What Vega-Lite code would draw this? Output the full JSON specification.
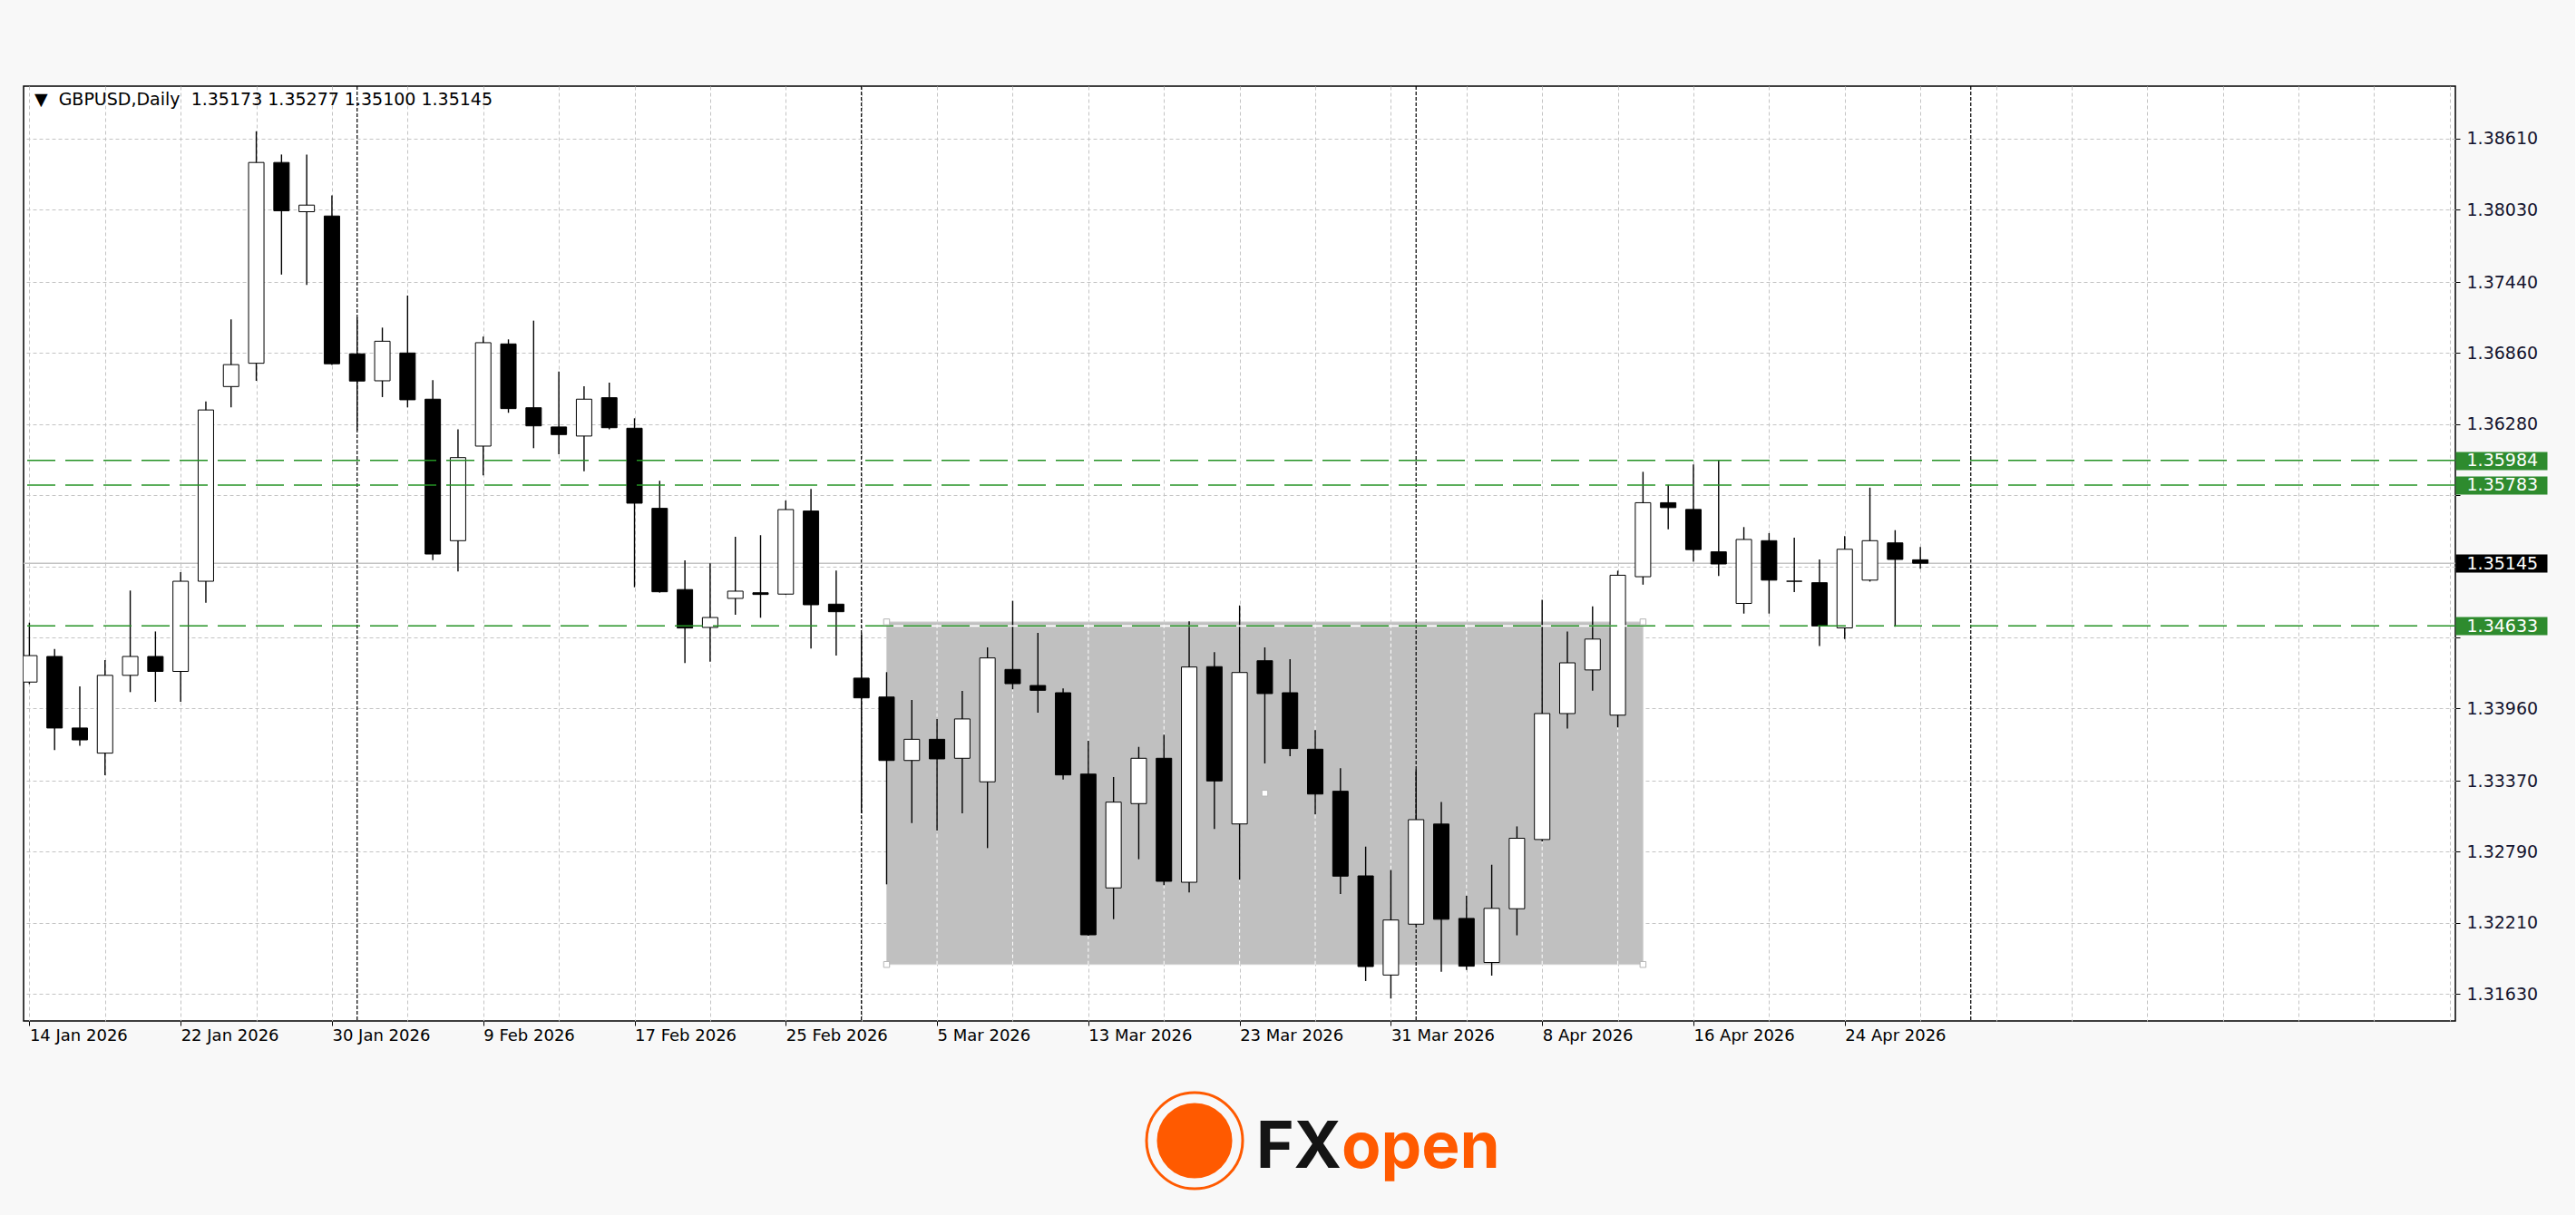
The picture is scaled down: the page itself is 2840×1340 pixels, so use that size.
{
  "$schema": "https://vega.github.io/schema/vega-lite/v6.json",
  "background": "#f8f8f8",
  "padding": {"left": 24, "top": 93, "right": 20, "bottom": 14},
  "autosize": {"type": "pad"},
  "spacing": 36,
  "config": {
    "view": {"stroke": "#000000", "strokeWidth": 1.5, "fill": "#ffffff"}
  },
  "datasets": {
    "candles": [
      {"d": "2026-01-14", "i": 0, "o": 1.34175, "h": 1.34660, "l": 1.34158, "c": 1.34391},
      {"d": "2026-01-15", "i": 1, "o": 1.34384, "h": 1.34445, "l": 1.33620, "c": 1.33800},
      {"d": "2026-01-16", "i": 2, "o": 1.33800, "h": 1.34140, "l": 1.33656, "c": 1.33703},
      {"d": "2026-01-19", "i": 3, "o": 1.33595, "h": 1.34355, "l": 1.33415, "c": 1.34230},
      {"d": "2026-01-20", "i": 4, "o": 1.34230, "h": 1.34922, "l": 1.34093, "c": 1.34384},
      {"d": "2026-01-21", "i": 5, "o": 1.34384, "h": 1.34588, "l": 1.34014, "c": 1.34262},
      {"d": "2026-01-22", "i": 6, "o": 1.34262, "h": 1.35072, "l": 1.34014, "c": 1.34998},
      {"d": "2026-01-23", "i": 7, "o": 1.34998, "h": 1.36465, "l": 1.34822, "c": 1.36396},
      {"d": "2026-01-26", "i": 8, "o": 1.36587, "h": 1.37136, "l": 1.36418, "c": 1.36766},
      {"d": "2026-01-27", "i": 9, "o": 1.36777, "h": 1.38671, "l": 1.36633, "c": 1.38416},
      {"d": "2026-01-28", "i": 10, "o": 1.38416, "h": 1.38481, "l": 1.37501, "c": 1.38022},
      {"d": "2026-01-29", "i": 11, "o": 1.38014, "h": 1.38481, "l": 1.37416, "c": 1.38068},
      {"d": "2026-01-30", "i": 12, "o": 1.37979, "h": 1.38147, "l": 1.36764, "c": 1.36773},
      {"d": "2026-02-02", "i": 13, "o": 1.36854, "h": 1.37150, "l": 1.36229, "c": 1.36632},
      {"d": "2026-02-03", "i": 14, "o": 1.36634, "h": 1.37068, "l": 1.36501, "c": 1.36957},
      {"d": "2026-02-04", "i": 15, "o": 1.36861, "h": 1.37330, "l": 1.36417, "c": 1.36479},
      {"d": "2026-02-05", "i": 16, "o": 1.36484, "h": 1.36639, "l": 1.35171, "c": 1.35220},
      {"d": "2026-02-06", "i": 17, "o": 1.35329, "h": 1.36237, "l": 1.35078, "c": 1.36007},
      {"d": "2026-02-09", "i": 18, "o": 1.36101, "h": 1.36994, "l": 1.35862, "c": 1.36945},
      {"d": "2026-02-10", "i": 19, "o": 1.36935, "h": 1.36972, "l": 1.36373, "c": 1.36407},
      {"d": "2026-02-11", "i": 20, "o": 1.36414, "h": 1.37125, "l": 1.36084, "c": 1.36266},
      {"d": "2026-02-12", "i": 21, "o": 1.36257, "h": 1.36710, "l": 1.36035, "c": 1.36195},
      {"d": "2026-02-13", "i": 22, "o": 1.36183, "h": 1.36590, "l": 1.35896, "c": 1.36484},
      {"d": "2026-02-16", "i": 23, "o": 1.36496, "h": 1.36619, "l": 1.36237, "c": 1.36251},
      {"d": "2026-02-17", "i": 24, "o": 1.36247, "h": 1.36328, "l": 1.34949, "c": 1.35635},
      {"d": "2026-02-18", "i": 25, "o": 1.35593, "h": 1.35818, "l": 1.34905, "c": 1.34912},
      {"d": "2026-02-19", "i": 26, "o": 1.34930, "h": 1.35169, "l": 1.34330, "c": 1.34616},
      {"d": "2026-02-20", "i": 27, "o": 1.34621, "h": 1.35144, "l": 1.34342, "c": 1.34702},
      {"d": "2026-02-23", "i": 28, "o": 1.34858, "h": 1.35361, "l": 1.34725, "c": 1.34917},
      {"d": "2026-02-24", "i": 29, "o": 1.34904, "h": 1.35374, "l": 1.34700, "c": 1.34890},
      {"d": "2026-02-25", "i": 30, "o": 1.34893, "h": 1.35657, "l": 1.34888, "c": 1.35583},
      {"d": "2026-02-26", "i": 31, "o": 1.35571, "h": 1.35751, "l": 1.34449, "c": 1.34806},
      {"d": "2026-02-27", "i": 32, "o": 1.34811, "h": 1.35085, "l": 1.34392, "c": 1.34749},
      {"d": "2026-03-02", "i": 33, "o": 1.34207, "h": 1.34567, "l": 1.33104, "c": 1.34046},
      {"d": "2026-03-03", "i": 34, "o": 1.34053, "h": 1.34256, "l": 1.32524, "c": 1.33535},
      {"d": "2026-03-04", "i": 35, "o": 1.33535, "h": 1.34029, "l": 1.33025, "c": 1.33708},
      {"d": "2026-03-05", "i": 36, "o": 1.33708, "h": 1.33874, "l": 1.32963, "c": 1.33548},
      {"d": "2026-03-06", "i": 37, "o": 1.33553, "h": 1.34103, "l": 1.33104, "c": 1.33874},
      {"d": "2026-03-09", "i": 38, "o": 1.33361, "h": 1.34458, "l": 1.32820, "c": 1.34372},
      {"d": "2026-03-10", "i": 39, "o": 1.34278, "h": 1.34838, "l": 1.34116, "c": 1.34162},
      {"d": "2026-03-11", "i": 40, "o": 1.34147, "h": 1.34577, "l": 1.33925, "c": 1.34108},
      {"d": "2026-03-12", "i": 41, "o": 1.34088, "h": 1.34123, "l": 1.33380, "c": 1.33417},
      {"d": "2026-03-13", "i": 42, "o": 1.33424, "h": 1.33696, "l": 1.32105, "c": 1.32112},
      {"d": "2026-03-16", "i": 43, "o": 1.32495, "h": 1.33400, "l": 1.32240, "c": 1.33195},
      {"d": "2026-03-17", "i": 44, "o": 1.33183, "h": 1.33646, "l": 1.32729, "c": 1.33553},
      {"d": "2026-03-18", "i": 45, "o": 1.33553, "h": 1.33745, "l": 1.32517, "c": 1.32549},
      {"d": "2026-03-19", "i": 46, "o": 1.32541, "h": 1.34671, "l": 1.32458, "c": 1.34298},
      {"d": "2026-03-20", "i": 47, "o": 1.34301, "h": 1.34419, "l": 1.32976, "c": 1.33368},
      {"d": "2026-03-23", "i": 48, "o": 1.33017, "h": 1.34801, "l": 1.32561, "c": 1.34253},
      {"d": "2026-03-24", "i": 49, "o": 1.34349, "h": 1.34458, "l": 1.33511, "c": 1.34081},
      {"d": "2026-03-25", "i": 50, "o": 1.34088, "h": 1.34362, "l": 1.33570, "c": 1.33632},
      {"d": "2026-03-26", "i": 51, "o": 1.33627, "h": 1.33782, "l": 1.33096, "c": 1.33261},
      {"d": "2026-03-27", "i": 52, "o": 1.33284, "h": 1.33472, "l": 1.32445, "c": 1.32591},
      {"d": "2026-03-30", "i": 53, "o": 1.32593, "h": 1.32832, "l": 1.31735, "c": 1.31853},
      {"d": "2026-03-31", "i": 54, "o": 1.31784, "h": 1.32640, "l": 1.31592, "c": 1.32233},
      {"d": "2026-04-01", "i": 55, "o": 1.32199, "h": 1.33461, "l": 1.32191, "c": 1.33052},
      {"d": "2026-04-02", "i": 56, "o": 1.33016, "h": 1.33197, "l": 1.31810, "c": 1.32239},
      {"d": "2026-04-03", "i": 57, "o": 1.32246, "h": 1.32430, "l": 1.31826, "c": 1.31856},
      {"d": "2026-04-06", "i": 58, "o": 1.31886, "h": 1.32684, "l": 1.31779, "c": 1.32328},
      {"d": "2026-04-07", "i": 59, "o": 1.32325, "h": 1.32997, "l": 1.32108, "c": 1.32900},
      {"d": "2026-04-08", "i": 60, "o": 1.32890, "h": 1.34847, "l": 1.32874, "c": 1.33918},
      {"d": "2026-04-09", "i": 61, "o": 1.33918, "h": 1.34587, "l": 1.33795, "c": 1.34332},
      {"d": "2026-04-10", "i": 62, "o": 1.34274, "h": 1.34793, "l": 1.34105, "c": 1.34526},
      {"d": "2026-04-13", "i": 63, "o": 1.33905, "h": 1.35084, "l": 1.33805, "c": 1.35047},
      {"d": "2026-04-14", "i": 64, "o": 1.35035, "h": 1.35891, "l": 1.34970, "c": 1.35639},
      {"d": "2026-04-15", "i": 65, "o": 1.35639, "h": 1.35784, "l": 1.35422, "c": 1.35599},
      {"d": "2026-04-16", "i": 66, "o": 1.35584, "h": 1.35952, "l": 1.35158, "c": 1.35256},
      {"d": "2026-04-17", "i": 67, "o": 1.35238, "h": 1.35983, "l": 1.35041, "c": 1.35139},
      {"d": "2026-04-20", "i": 68, "o": 1.34817, "h": 1.35440, "l": 1.34734, "c": 1.35339},
      {"d": "2026-04-21", "i": 69, "o": 1.35329, "h": 1.35391, "l": 1.34734, "c": 1.35007},
      {"d": "2026-04-22", "i": 70, "o": 1.34998, "h": 1.35354, "l": 1.34910, "c": 1.34998},
      {"d": "2026-04-23", "i": 71, "o": 1.34986, "h": 1.35176, "l": 1.34470, "c": 1.34633},
      {"d": "2026-04-24", "i": 72, "o": 1.34617, "h": 1.35366, "l": 1.34526, "c": 1.35259},
      {"d": "2026-04-27", "i": 73, "o": 1.35007, "h": 1.35762, "l": 1.34995, "c": 1.35329},
      {"d": "2026-04-28", "i": 74, "o": 1.35311, "h": 1.35415, "l": 1.34627, "c": 1.35176},
      {"d": "2026-04-29", "i": 75, "o": 1.35173, "h": 1.35277, "l": 1.35100, "c": 1.35145}
    ],
    "levels": [
      {"p": 1.35984, "kind": "line"},
      {"p": 1.35783, "kind": "line"},
      {"p": 1.34633, "kind": "line"},
      {"p": 1.35145, "kind": "bid"}
    ],
    "zone": [{"i1": 34, "i2": 64, "p1": 1.3187, "p2": 1.34666}],
    "handles": [
      {"i": 34, "p": 1.34666},
      {"i": 64, "p": 1.34666},
      {"i": 34, "p": 1.3187},
      {"i": 64, "p": 1.3187},
      {"i": 49, "p": 1.33268}
    ],
    "separators": [{"i": 13}, {"i": 33}, {"i": 55}, {"i": 77}],
    "zonegrid": [{"i": 36}, {"i": 39}, {"i": 42}, {"i": 45}, {"i": 48}, {"i": 51}, {"i": 54}, {"i": 57}, {"i": 60}, {"i": 63}]
  },
  "vconcat": [
    {
      "width": 2681,
      "height": 1031,
      "layer": [
        {
          "data": {"name": "zone"},
          "mark": {"type": "rect", "fill": "#c0c0c0", "stroke": "#d4d4d4", "strokeWidth": 1, "clip": true},
          "encoding": {
            "x": {"field": "i1", "type": "quantitative", "title": null, "scale": {"domain": [-0.05, 96.04], "nice": false, "zero": false}},
            "x2": {"field": "i2"},
            "y": {"field": "p1", "type": "quantitative", "title": null, "scale": {"domain": [1.31409, 1.39039], "nice": false, "zero": false}},
            "y2": {"field": "p2"}
          }
        },
        {
          "data": {"name": "zonegrid"},
          "mark": {"type": "rule", "color": "#ffffff", "strokeDash": [4, 3], "strokeWidth": 1},
          "encoding": {
            "x": {"field": "i", "type": "quantitative", "title": null, "scale": {"domain": [-0.05, 96.04], "nice": false, "zero": false}},
            "y": {"datum": 1.3187, "type": "quantitative", "title": null, "scale": {"domain": [1.31409, 1.39039], "nice": false, "zero": false}},
            "y2": {"datum": 1.34666}
          }
        },
        {
          "data": {"name": "separators"},
          "mark": {"type": "rule", "color": "#000000", "strokeDash": [4, 2], "strokeWidth": 1.2},
          "encoding": {
            "x": {"field": "i", "type": "quantitative", "title": null, "scale": {"domain": [-0.05, 96.04], "nice": false, "zero": false}}
          }
        },
        {
          "data": {"name": "levels"},
          "transform": [{"filter": "datum.kind === 'bid'"}],
          "mark": {"type": "rule", "color": "#c3c3c3", "strokeWidth": 1.5},
          "encoding": {
            "y": {"field": "p", "type": "quantitative", "title": null, "scale": {"domain": [1.31409, 1.39039], "nice": false, "zero": false}}
          }
        },
        {
          "data": {"name": "candles"},
          "mark": {"type": "rule", "color": "#000000", "strokeWidth": 1.4, "clip": true},
          "encoding": {
            "x": {
              "field": "i", "type": "quantitative", "title": null,
              "scale": {"domain": [-0.05, 96.04], "nice": false, "zero": false},
              "axis": {
                "values": [0, 3, 6, 9, 12, 15, 18, 21, 24, 27, 30, 33, 36, 39, 42, 45, 48, 51, 54, 57, 60, 63, 66, 69, 72, 75, 78, 81, 84, 87, 90, 93, 96],
                "title": null,
                "domain": false,
                "grid": true,
                "gridColor": "#c4c4c4",
                "gridDash": [4, 3],
                "gridWidth": 1,
                "ticks": true,
                "tickSize": 5,
                "tickColor": "#000000",
                "tickWidth": 1,
                "tickOpacity": {"condition": {"test": "datum.value % 6 === 0 && datum.value <= 72", "value": 1}, "value": 0},
                "labelExpr": "(datum.value % 6 === 0 && datum.value <= 72) ? ['14 Jan 2026','22 Jan 2026','30 Jan 2026','9 Feb 2026','17 Feb 2026','25 Feb 2026','5 Mar 2026','13 Mar 2026','23 Mar 2026','31 Mar 2026','8 Apr 2026','16 Apr 2026','24 Apr 2026'][datum.value / 6] : ''",
                "labelAlign": "left",
                "labelBaseline": "top",
                "labelPadding": 2,
                "labelFont": "DejaVu Sans",
                "labelFontSize": 18,
                "labelColor": "#000000",
                "labelOverlap": false,
                "labelFlush": false,
                "labelBound": false
              }
            },
            "y": {
              "field": "l", "type": "quantitative", "title": null,
              "scale": {"domain": [1.31409, 1.39039], "nice": false, "zero": false},
              "axis": {
                "orient": "right",
                "values": [1.3163, 1.3221, 1.3279, 1.3337, 1.3396, 1.3454, 1.3512, 1.357, 1.3628, 1.3686, 1.3744, 1.3803, 1.3861, 1.35984, 1.35783, 1.35145, 1.34633],
                "title": null,
                "domain": false,
                "format": ".5f",
                "grid": true,
                "gridColor": "#c4c4c4",
                "gridDash": [4, 3],
                "gridWidth": 1,
                "gridOpacity": {"condition": {"test": "indexof([1.35984, 1.35783, 1.35145, 1.34633], datum.value) >= 0", "value": 0}, "value": 1},
                "ticks": true,
                "tickSize": {"condition": {"test": "indexof([1.35984, 1.35783, 1.35145, 1.34633], datum.value) >= 0", "value": 101}, "value": 5},
                "tickWidth": {"condition": {"test": "indexof([1.35984, 1.35783, 1.35145, 1.34633], datum.value) >= 0", "value": 20}, "value": 1},
                "tickColor": {"condition": [{"test": "datum.value === 1.35145", "value": "#000000"}, {"test": "indexof([1.35984, 1.35783, 1.34633], datum.value) >= 0", "value": "#2e8b2e"}], "value": "#000000"},
                "labelColor": {"condition": {"test": "indexof([1.35984, 1.35783, 1.35145, 1.34633], datum.value) >= 0", "value": "#ffffff"}, "value": "#14142e"},
                "labelPadding": {"condition": {"test": "indexof([1.35984, 1.35783, 1.35145, 1.34633], datum.value) >= 0", "value": -89}, "value": 7},
                "labelOpacity": {"condition": {"test": "datum.value === 1.357 || datum.value === 1.3512 || datum.value === 1.3454", "value": 0}, "value": 1},
                "labelFont": "DejaVu Sans",
                "labelFontSize": 19,
                "labelOverlap": false,
                "labelFlush": false,
                "labelBound": false
              }
            },
            "y2": {"field": "h"}
          }
        },
        {
          "data": {"name": "candles"},
          "mark": {"type": "bar", "size": 17, "stroke": "#000000", "strokeWidth": 1, "clip": true},
          "encoding": {
            "x": {"field": "i", "type": "quantitative", "title": null, "scale": {"domain": [-0.05, 96.04], "nice": false, "zero": false}},
            "y": {"field": "o", "type": "quantitative", "title": null, "scale": {"domain": [1.31409, 1.39039], "nice": false, "zero": false}},
            "y2": {"field": "c"},
            "fill": {"condition": {"test": "datum.c >= datum.o", "value": "#ffffff"}, "value": "#000000"}
          }
        },
        {
          "data": {"name": "zone"},
          "mark": {"type": "rule", "color": "#ffffff", "strokeWidth": 1.6},
          "encoding": {
            "x": {"field": "i1", "type": "quantitative", "title": null, "scale": {"domain": [-0.05, 96.04], "nice": false, "zero": false}},
            "x2": {"field": "i2"},
            "y": {"datum": 1.34633, "type": "quantitative", "title": null, "scale": {"domain": [1.31409, 1.39039], "nice": false, "zero": false}}
          }
        },
        {
          "data": {"name": "levels"},
          "transform": [{"filter": "datum.kind === 'line'"}],
          "mark": {"type": "rule", "color": "#249224", "strokeDash": [31, 11], "strokeWidth": 1.5},
          "encoding": {
            "y": {"field": "p", "type": "quantitative", "title": null, "scale": {"domain": [1.31409, 1.39039], "nice": false, "zero": false}}
          }
        },
        {
          "data": {"name": "handles"},
          "mark": {"type": "point", "shape": "square", "size": 42, "filled": true, "fill": "#ffffff", "stroke": "#b4b4b4", "strokeWidth": 1, "opacity": 1},
          "encoding": {
            "x": {"field": "i", "type": "quantitative", "title": null, "scale": {"domain": [-0.05, 96.04], "nice": false, "zero": false}},
            "y": {"field": "p", "type": "quantitative", "title": null, "scale": {"domain": [1.31409, 1.39039], "nice": false, "zero": false}}
          }
        },
        {
          "data": {"values": [{}]},
          "mark": {"type": "text", "text": "▼\u00a0\u00a0GBPUSD,Daily\u00a0\u00a01.35173 1.35277 1.35100 1.35145", "font": "DejaVu Sans", "fontSize": 19, "align": "left", "baseline": "middle", "color": "#000000"},
          "encoding": {
            "x": {"datum": 0.2, "type": "quantitative", "title": null, "scale": {"domain": [-0.05, 96.04], "nice": false, "zero": false}},
            "y": {"datum": 1.38928, "type": "quantitative", "title": null, "scale": {"domain": [1.31409, 1.39039], "nice": false, "zero": false}}
          }
        }
      ]
    },
    {
      "width": 2681,
      "height": 140,
      "view": {"stroke": null, "fill": null},
      "data": {"values": [{}]},
      "layer": [
        {
          "mark": {"type": "point", "shape": "circle", "size": 11236, "filled": false, "stroke": "#ff5a00", "strokeWidth": 3, "opacity": 1},
          "encoding": {
            "x": {"datum": 0.48154, "type": "quantitative", "scale": {"domain": [0, 1]}, "axis": null},
            "y": {"datum": 0.5, "type": "quantitative", "scale": {"domain": [0, 1]}, "axis": null}
          }
        },
        {
          "mark": {"type": "point", "shape": "circle", "size": 6900, "filled": true, "fill": "#ff5a00", "strokeWidth": 0, "opacity": 1},
          "encoding": {
            "x": {"datum": 0.48154, "type": "quantitative", "scale": {"domain": [0, 1]}, "axis": null},
            "y": {"datum": 0.5, "type": "quantitative", "scale": {"domain": [0, 1]}, "axis": null}
          }
        },
        {
          "mark": {"type": "text", "text": "FX", "font": "Inter", "fontWeight": "bold", "fontSize": 71, "align": "right", "baseline": "alphabetic", "color": "#141414"},
          "encoding": {
            "x": {"datum": 0.54196, "type": "quantitative", "scale": {"domain": [0, 1]}, "axis": null},
            "y": {"datum": 0.2857, "type": "quantitative", "scale": {"domain": [0, 1]}, "axis": null}
          }
        },
        {
          "mark": {"type": "text", "text": "open", "font": "Inter", "fontWeight": "bold", "fontSize": 71, "align": "left", "baseline": "alphabetic", "color": "#ff5a00"},
          "encoding": {
            "x": {"datum": 0.54196, "type": "quantitative", "scale": {"domain": [0, 1]}, "axis": null},
            "y": {"datum": 0.2857, "type": "quantitative", "scale": {"domain": [0, 1]}, "axis": null}
          }
        }
      ]
    }
  ]
}
